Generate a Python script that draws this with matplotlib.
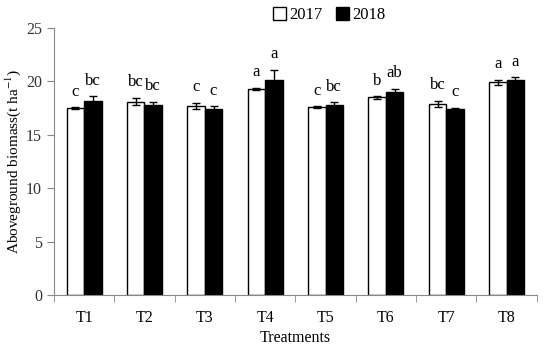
import numpy as np
import matplotlib.pyplot as plt

treatments = ["T1", "T2", "T3", "T4", "T5", "T6", "T7", "T8"]
y2017 = [17.5, 18.1, 17.7, 19.3, 17.6, 18.5, 17.9, 19.9]
y2018 = [18.2, 17.8, 17.4, 20.1, 17.8, 19.0, 17.4, 20.1]
err2017 = [0.1, 0.35, 0.3, 0.1, 0.1, 0.1, 0.3, 0.25]
err2018 = [0.4, 0.3, 0.3, 1.0, 0.25, 0.3, 0.15, 0.3]
let2017 = ["c", "bc", "c", "a", "c", "b", "bc", "a"]
let2018 = ["bc", "bc", "c", "a", "bc", "ab", "c", "a"]

plt.rcParams["font.family"] = ["Liberation Serif", "DejaVu Serif"]
plt.rcParams["mathtext.fontset"] = "stix"

fig = plt.figure(figsize=(5.5, 3.5), dpi=100)
ax = fig.add_axes([0.098, 0.157, 0.878, 0.763])

x = np.arange(len(treatments))
w = 0.29
ekw = dict(elinewidth=1, capsize=3, capthick=1, ecolor="black")
ax.bar(x - w / 2, y2017, w, yerr=err2017, color="white", edgecolor="black",
       linewidth=1, error_kw=ekw, label="2017")
ax.bar(x + w / 2, y2018, w, yerr=err2018, color="black", edgecolor="black",
       linewidth=1, error_kw=ekw, label="2018")

for i in range(len(treatments)):
    ax.text(x[i] - w / 2, y2017[i] + err2017[i] + 0.7, let2017[i],
            ha="center", va="bottom", fontsize=12)
    ax.text(x[i] + w / 2, y2018[i] + err2018[i] + 0.7, let2018[i],
            ha="center", va="bottom", fontsize=12)

ax.set_xlim(-0.5, len(treatments) - 0.5)
ax.set_ylim(0, 25)
ax.set_yticks([0, 5, 10, 15, 20, 25])
ax.set_xticks(x)
ax.set_xticklabels(treatments)
ax.set_xticks(np.arange(-0.5, len(treatments), 1), minor=True)
ax.tick_params(axis="x", which="major", length=0, pad=11, labelsize=11.5)
ax.tick_params(axis="x", which="minor", length=5, color="#888888")
ax.tick_params(axis="y", length=5, color="#888888", labelsize=11.5,
               labelcolor="#333333")

for s in ["top", "right"]:
    ax.spines[s].set_visible(False)
for s in ["left", "bottom"]:
    ax.spines[s].set_color("#888888")

ax.set_xlabel("Treatments", fontsize=11.5, labelpad=3)
ax.set_ylabel("Aboveground biomass(t ha$^{-1}$)", fontsize=11, labelpad=2)

ax.legend(loc="upper center", bbox_to_anchor=(0.57, 1.135), ncol=2,
          frameon=False, fontsize=12, handlelength=0.8, handleheight=0.8,
          handletextpad=0.2, columnspacing=0.8)

plt.savefig("out.png")
plt.close()
